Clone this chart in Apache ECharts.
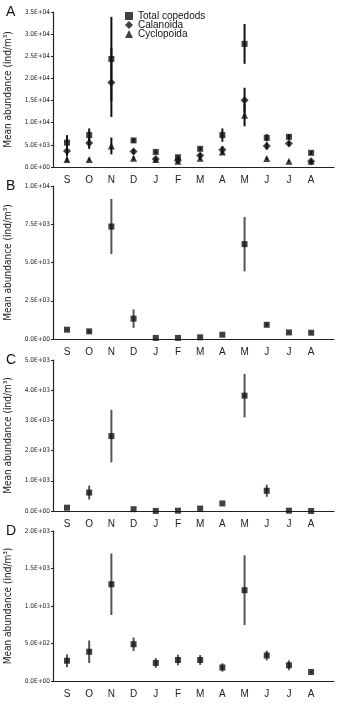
<!DOCTYPE html>
<html>
<head>
<meta charset="utf-8">
<title></title>
<script src="https://cdn.jsdelivr.net/npm/echarts@6/dist/echarts.min.js"></script>
<style>
  body { margin: 0; background: #fff; }
  #main { width: 350px; height: 707px; }
</style>
</head>
<body>
<div id="main"></div>
<script type="text/javascript">
// month labels, Sep -> Aug
var months = ['S', 'O', 'N', 'D', 'J', 'F', 'M', 'A', 'M', 'J', 'J', 'A'];

// panel A: mean and sd
var aTotal    = [5500, 7200, 24400, 6000, 3400, 2200, 4100, 7200, 27800, 6600, 6800, 3200];
var aTotalSd  = [1700, 1500, 9500, 500, 300, 300, 400, 1500, 4500, 800, 600, 400];
var aCalan    = [3600, 5400, 19100, 3500, 1800, 1500, 2600, 3900, 15100, 4750, 5300, 1300];
var aCalanSd  = [1200, 1300, 7800, 600, 200, 300, 500, 800, 2800, 800, 600, 300];
var aCyclo    = [1700, 1700, 4750, 2000, 1700, 1300, 2000, 3400, 11700, 1900, 1300, 1300];
var aCycloSd  = [500, 300, 1900, 400, 200, 200, 400, 600, 2500, 300, 200, 200];

// panel B
var bMean = [610, 500, 7350, 1330, 70, 70, 110, 280, 6200, 930, 430, 410];
var bSd   = [40, 100, 1800, 600, 0, 0, 0, 0, 1780, 120, 30, 30];
// panel C
var cMean = [110, 610, 2480, 60, 0, 10, 80, 250, 3820, 670, 10, 0];
var cSd   = [0, 230, 870, 0, 0, 0, 0, 0, 720, 200, 0, 0];
// panel D
var dMean = [270, 390, 1290, 490, 240, 280, 280, 180, 1210, 340, 210, 120];
var dSd   = [85, 150, 410, 90, 65, 70, 65, 55, 465, 65, 65, 15];

var yMax  = [35000, 10000, 5000, 2000];
var yStep = [5000, 2500, 1000, 500];
var letters = ['A', 'B', 'C', 'D'];

var gridTop = [12, 186, 360, 531];
var gridH   = [155, 153, 151, 150];

var narrow = "'DejaVu Sans Condensed', 'Liberation Sans', sans-serif";

function expFmt(v) {
    var s = Number(v).toExponential(1).split('e');
    var e = parseInt(s[1], 10);
    var a = Math.abs(e);
    return s[0] + 'E' + (e < 0 ? '-' : '+') + (a < 10 ? '0' : '') + a;
}
function pts(mean) {
    var out = [];
    for (var i = 0; i < mean.length; i++) out.push([i, mean[i]]);
    return out;
}
function errs(mean, sd) {
    var out = [];
    for (var i = 0; i < mean.length; i++) {
        if (sd[i] > 0) out.push([i, mean[i] - sd[i], mean[i] + sd[i]]);
    }
    return out;
}
function barSeries(idx, data, color) {
    return {
        type: 'custom',
        xAxisIndex: idx, yAxisIndex: idx,
        z: 1,
        silent: true,
        encode: { x: 0, y: [1, 2] },
        data: data,
        renderItem: function (params, api) {
            var lo = api.coord([api.value(0), api.value(1)]);
            var hi = api.coord([api.value(0), api.value(2)]);
            return {
                type: 'line',
                shape: { x1: lo[0], y1: lo[1], x2: hi[0], y2: hi[1] },
                style: { stroke: color, lineWidth: 2 }
            };
        }
    };
}
function dotSeries(idx, name, data, symbol, size) {
    return {
        type: 'scatter', name: name,
        xAxisIndex: idx, yAxisIndex: idx,
        z: 3,
        symbol: symbol, symbolSize: size,
        itemStyle: { color: '#111' },
        data: data
    };
}

var grids = [], xAxes = [], yAxes = [], titles = [];
var mv = [0, 1, 2, 3, 4, 5, 6, 7, 8, 9, 10, 11];
for (var k = 0; k < 4; k++) {
    grids.push({ left: 53, width: 281, top: gridTop[k], height: gridH[k], outerBoundsMode: 'none' });
    xAxes.push({
        type: 'value', gridIndex: k, min: -0.63, max: 12.03,
        axisLine: { onZero: false, lineStyle: { color: '#222', width: 1.2 } },
        axisTick: { show: false },
        splitLine: { show: false },
        axisLabel: {
            customValues: mv, margin: 8,
            fontFamily: 'Liberation Sans', fontSize: 10, color: '#222',
            formatter: function (v) { return months[Math.round(v)]; }
        }
    });
    yAxes.push({
        type: 'value', gridIndex: k, min: 0, max: yMax[k], interval: yStep[k],
        name: 'Mean abundance (ind/m³)', nameLocation: 'middle', nameGap: 36,
        nameTextStyle: { fontFamily: narrow, fontSize: 10, color: '#222' },
        axisLine: { show: true, onZero: false, lineStyle: { color: '#222', width: 1.2 } },
        axisTick: { show: true, length: 2, lineStyle: { color: '#222' } },
        splitLine: { show: false },
        axisLabel: {
            margin: 3, fontFamily: narrow, fontSize: 6.5, color: '#222',
            formatter: expFmt
        }
    });
    titles.push({
        text: letters[k], left: 1, top: gridTop[k] - 12,
        textStyle: { fontFamily: 'Liberation Sans', fontSize: 14, fontWeight: 'normal', color: '#111' }
    });
}

var series = [
    barSeries(0, errs(aTotal, aTotalSd), '#111'),
    barSeries(0, errs(aCalan, aCalanSd), '#111'),
    barSeries(0, errs(aCyclo, aCycloSd), '#111'),
    dotSeries(0, 'Total copedods', pts(aTotal), 'rect', 6),
    dotSeries(0, 'Calanoida', pts(aCalan), 'diamond', 8),
    dotSeries(0, 'Cyclopoida', pts(aCyclo), 'triangle', 7),
    barSeries(1, errs(bMean, bSd), '#555'),
    dotSeries(1, 'B', pts(bMean), 'rect', 6),
    barSeries(2, errs(cMean, cSd), '#555'),
    dotSeries(2, 'C', pts(cMean), 'rect', 6),
    barSeries(3, errs(dMean, dSd), '#555'),
    dotSeries(3, 'D', pts(dMean), 'rect', 6)
];

var myChart = echarts.init(document.getElementById('main'));
myChart.setOption({
    animation: false,
    title: titles,
    legend: {
        data: [
            { name: 'Total copedods', icon: 'rect' },
            { name: 'Calanoida', icon: 'diamond' },
            { name: 'Cyclopoida', icon: 'triangle' }
        ],
        orient: 'vertical', left: 120, top: 6,
        itemWidth: 8, itemHeight: 8, itemGap: -1,
        textStyle: { fontFamily: 'Liberation Sans', fontSize: 10, color: '#111', lineHeight: 8 }
    },
    grid: grids,
    xAxis: xAxes,
    yAxis: yAxes,
    series: series
});
</script>
</body>
</html>
